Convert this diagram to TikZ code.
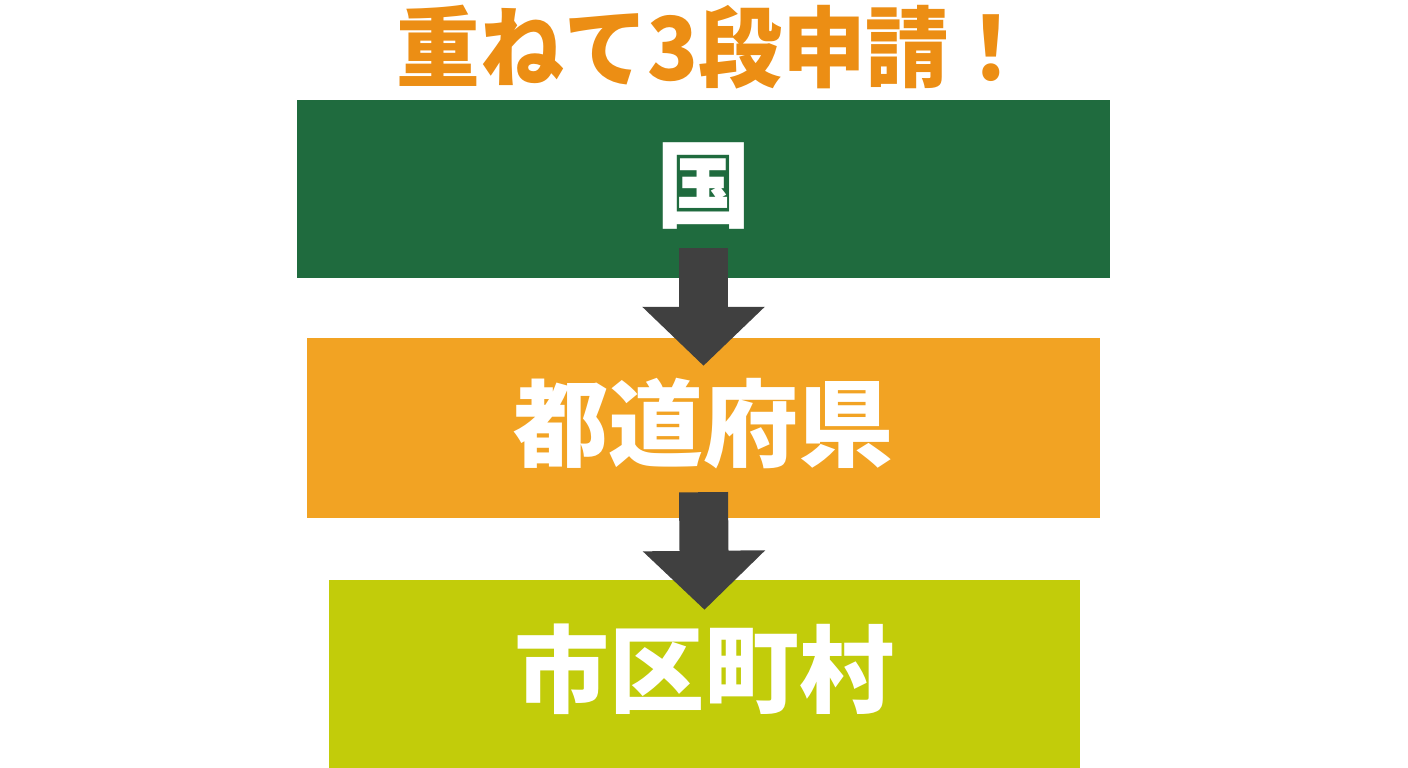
\documentclass[tikz,border=0pt]{standalone}
\usepackage{fontspec}
\usepackage{tikz}
\usetikzlibrary{arrows.meta,positioning}
\newfontfamily\jpfont{Noto Sans CJK JP}
\definecolor{kunigreen}{RGB}{31,107,62}
\definecolor{preforange}{RGB}{242,163,35}
\definecolor{citylime}{RGB}{194,204,10}
\definecolor{titleorange}{RGB}{236,142,20}
\definecolor{arrowgray}{RGB}{64,64,64}

\begin{document}
\begin{tikzpicture}[x=1pt, y=-1pt,
    tier/.style={inner sep=0pt, text=white, text height=62pt, text depth=0pt,
        font=\jpfont\bfseries\fontsize{95}{95}\selectfont},
    downarrow/.style={arrowgray, line width=49pt, -{Triangle[width=119pt, length=59pt]}}]
    \useasboundingbox (0,0) rectangle (1408,768);

    % Title
    \node[text=titleorange, xscale=0.95, font=\jpfont\bfseries\fontsize{88}{88}\selectfont] (title) at (715,47) {重ねて3段申請！};

    % Three tiers
    \node[tier, fill=kunigreen, minimum width=813pt, minimum height=178pt] (kuni) at (703.5,189) {国};
    \node[tier, fill=preforange, minimum width=793pt, minimum height=180pt] (pref) at (703.5,428) {都道府県};
    \node[tier, fill=citylime, minimum width=751pt, minimum height=188pt] (city) at (704.5,674) {市区町村};

    % Arrows between tiers
    \draw[downarrow] ([yshift=30pt]kuni.south) -- ([yshift=-28pt]pref.north);
    \draw[downarrow] ([yshift=26pt]pref.south) -- ([yshift=-30pt]city.north);
\end{tikzpicture}
\end{document}
